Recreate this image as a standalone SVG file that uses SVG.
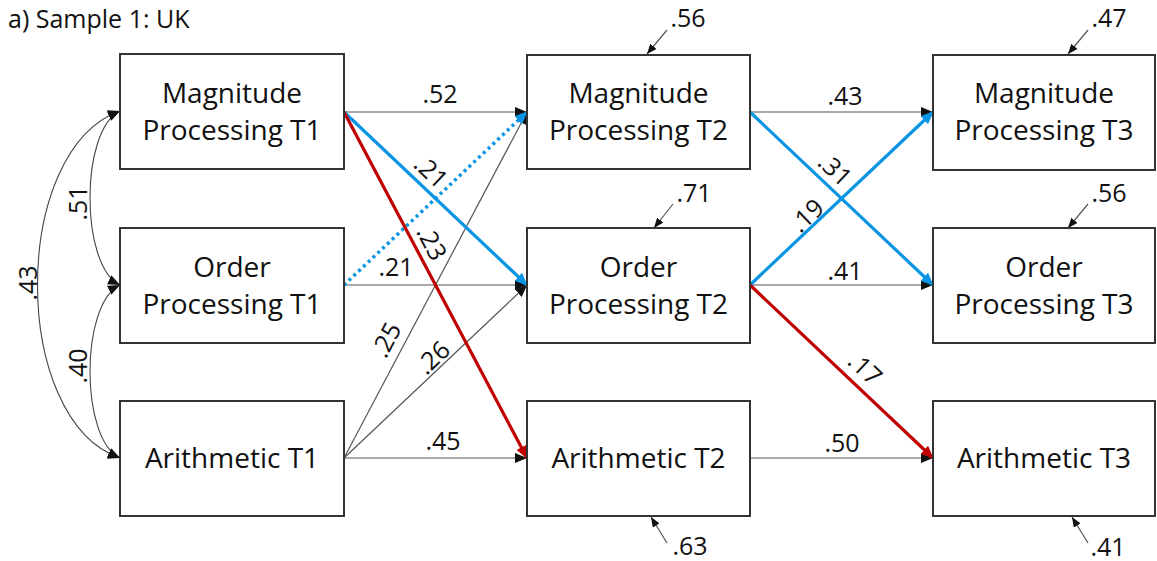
<svg xmlns="http://www.w3.org/2000/svg" width="1157" height="561" viewBox="0 0 1157 561">
  <style>
    .box { fill: #ffffff; stroke: #333333; stroke-width: 2; }
    .lbl { font-family: "Open Sans", "Liberation Sans", sans-serif; font-size: 28px; fill: #111111; text-anchor: middle; }
    .num { font-family: "Open Sans", "Liberation Sans", sans-serif; font-size: 25px; fill: #111111; text-anchor: middle; }
    .title { font-family: "Open Sans", "Liberation Sans", sans-serif; font-size: 25px; fill: #111111; }
    .thin { fill: none; stroke: #555555; stroke-width: 1.2; marker-end: url(#ahBlack); }
    .blue { fill: none; stroke: #0a94e4; stroke-width: 3.2; marker-end: url(#ahBlue); }
    .dots { fill: none; stroke: #0a94e4; stroke-width: 3.5; stroke-dasharray: 3 3.6; marker-end: url(#ahBlue); }
    .red { fill: none; stroke: #c00000; stroke-width: 3.2; marker-end: url(#ahRed); }
    .cov { fill: none; stroke: #444444; stroke-width: 1.1; marker-start: url(#ahCovS); marker-end: url(#ahBlack); }
    .res { fill: none; stroke: #555555; stroke-width: 1.2; marker-end: url(#ahSmall); }
  </style>
  <defs>
    <marker id="ahBlack" markerUnits="userSpaceOnUse" markerWidth="12" markerHeight="10" refX="12" refY="5" orient="auto">
      <path d="M0,0 L12,5 L0,10 z" fill="#111111"/>
    </marker>
    <marker id="ahCovS" markerUnits="userSpaceOnUse" markerWidth="12" markerHeight="10" refX="12" refY="5" orient="auto-start-reverse">
      <path d="M0,0 L12,5 L0,10 z" fill="#111111"/>
    </marker>
    <marker id="ahBlue" markerUnits="userSpaceOnUse" markerWidth="13" markerHeight="11" refX="12" refY="5.5" orient="auto">
      <path d="M0,0 L13,5.5 L0,11 z" fill="#0a94e4"/>
    </marker>
    <marker id="ahRed" markerUnits="userSpaceOnUse" markerWidth="13" markerHeight="11" refX="12" refY="5.5" orient="auto">
      <path d="M0,0 L13,5.5 L0,11 z" fill="#c00000"/>
    </marker>
    <marker id="ahSmall" markerUnits="userSpaceOnUse" markerWidth="10" markerHeight="8" refX="10" refY="4" orient="auto">
      <path d="M0,0 L10,4 L0,8 z" fill="#111111"/>
    </marker>
  </defs>

  <text class="title" x="8" y="28">a) Sample 1: UK</text>

  <!-- paths and covariances -->
  <g id="connectors">
    <!-- T1 covariances -->
    <path class="cov" d="M120,111 C80,130 80,266 120,285"/>
    <path class="cov" d="M120,285 C80,304 80,439 120,458"/>
    <path class="cov" d="M120,111 C10,150 10,420 120,458"/>

    <!-- T1 to T2 -->
    <path class="thin" d="M344,112 L527,112"/>
    <path class="thin" d="M344,285 L527,285"/>
    <path class="thin" d="M344,458 L527,458"/>
    <path class="thin" d="M344,458 L527,112"/>
    <path class="thin" d="M344,458 L527,285"/>
    <path class="dots" d="M344,285 L527,112"/>
    <path class="blue" d="M344,112 L527,285"/>
    <path class="red" d="M344,112 L527,458"/>

    <!-- T2 to T3 -->
    <path class="thin" d="M750,112 L933,112"/>
    <path class="thin" d="M750,285 L933,285"/>
    <path class="thin" d="M750,458 L933,458"/>
    <path class="blue" d="M750,112 L933,285"/>
    <path class="blue" d="M750,285 L933,112"/>
    <path class="red" d="M750,285 L933,458"/>

    <!-- residuals -->
    <path class="res" d="M667,30 L647,54"/>
    <path class="res" d="M673,204 L654,228"/>
    <path class="res" d="M667,543 L651,517"/>
    <path class="res" d="M1088,30 L1068,54"/>
    <path class="res" d="M1088,204 L1068,228"/>
    <path class="res" d="M1088,543 L1072,517"/>

    <!-- coefficient labels -->
    <text class="num" transform="translate(87,203) rotate(-90)">.51</text>
    <text class="num" transform="translate(87,366) rotate(-90)">.40</text>
    <text class="num" transform="translate(37,283) rotate(-90)">.43</text>

    <text class="num" x="440" y="103">.52</text>
    <text class="num" x="396" y="276">.21</text>
    <text class="num" x="443" y="450">.45</text>
    <text class="num" transform="translate(425,178) rotate(43.4)">.21</text>
    <text class="num" transform="translate(424,247) rotate(62)">.23</text>
    <text class="num" transform="translate(394,344) rotate(-62)">.25</text>
    <text class="num" transform="translate(439,364) rotate(-43.4)">.26</text>

    <text class="num" x="845" y="105">.43</text>
    <text class="num" x="845" y="280">.41</text>
    <text class="num" x="842" y="452">.50</text>
    <text class="num" transform="translate(829,176) rotate(43.4)">.31</text>
    <text class="num" transform="translate(813,222) rotate(-43.4)">.19</text>
    <text class="num" transform="translate(859,375) rotate(43.4)">.17</text>

    <text class="num" x="688" y="27">.56</text>
    <text class="num" x="694" y="202">.71</text>
    <text class="num" x="690" y="555">.63</text>
    <text class="num" x="1109" y="27">.47</text>
    <text class="num" x="1109" y="202">.56</text>
    <text class="num" x="1108" y="556">.41</text>
  </g>

  <!-- T1 nodes -->
  <g id="mag-t1">
    <rect class="box" x="120" y="54" width="224" height="115"/>
    <text class="lbl" x="232" y="103">Magnitude</text>
    <text class="lbl" x="232" y="140">Processing T1</text>
  </g>
  <g id="ord-t1">
    <rect class="box" x="120" y="228" width="224" height="115"/>
    <text class="lbl" x="232" y="277">Order</text>
    <text class="lbl" x="232" y="314">Processing T1</text>
  </g>
  <g id="ari-t1">
    <rect class="box" x="120" y="401" width="224" height="115"/>
    <text class="lbl" x="232" y="468">Arithmetic T1</text>
  </g>

  <!-- T2 nodes -->
  <g id="mag-t2">
    <rect class="box" x="527" y="55" width="223" height="114"/>
    <text class="lbl" x="638.5" y="103">Magnitude</text>
    <text class="lbl" x="638.5" y="140">Processing T2</text>
  </g>
  <g id="ord-t2">
    <rect class="box" x="527" y="228" width="223" height="115"/>
    <text class="lbl" x="638.5" y="277">Order</text>
    <text class="lbl" x="638.5" y="314">Processing T2</text>
  </g>
  <g id="ari-t2">
    <rect class="box" x="527" y="401" width="223" height="115"/>
    <text class="lbl" x="638.5" y="468">Arithmetic T2</text>
  </g>

  <!-- T3 nodes -->
  <g id="mag-t3">
    <rect class="box" x="933" y="55" width="222" height="115"/>
    <text class="lbl" x="1044" y="103">Magnitude</text>
    <text class="lbl" x="1044" y="140">Processing T3</text>
  </g>
  <g id="ord-t3">
    <rect class="box" x="933" y="228" width="222" height="115"/>
    <text class="lbl" x="1044" y="277">Order</text>
    <text class="lbl" x="1044" y="314">Processing T3</text>
  </g>
  <g id="ari-t3">
    <rect class="box" x="933" y="401" width="222" height="115"/>
    <text class="lbl" x="1044" y="468">Arithmetic T3</text>
  </g>
</svg>
